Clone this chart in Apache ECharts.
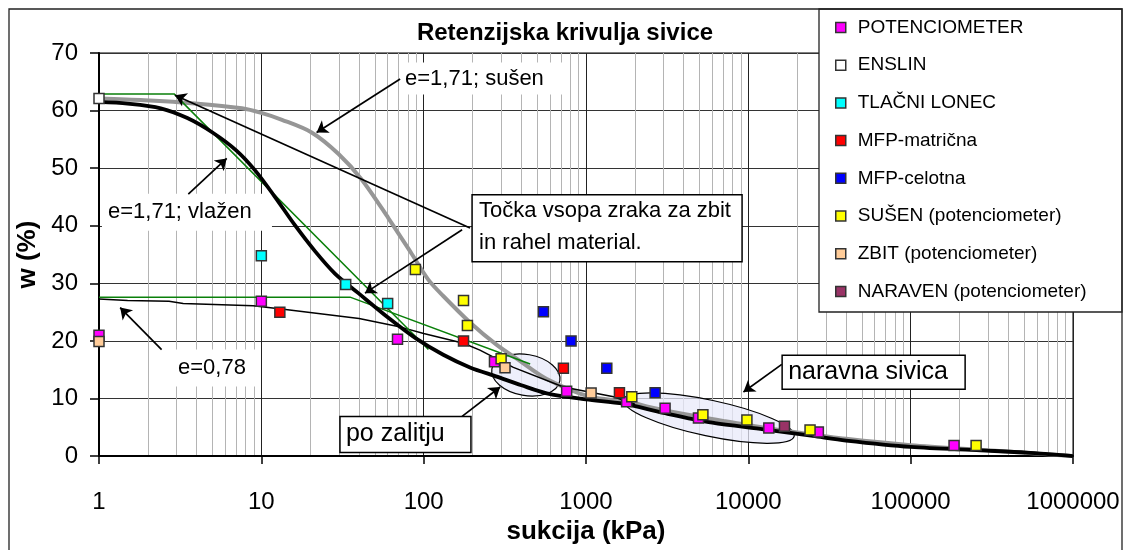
<!DOCTYPE html>
<html><head><meta charset="utf-8">
<script src="https://cdn.jsdelivr.net/npm/echarts@6/dist/echarts.min.js"></script>
<style>html,body{margin:0;padding:0;background:#fff}#c{width:1124px;height:550px}</style>
</head><body><div id="c"></div>
<script>
const FONT = '"Liberation Sans", Arial, sans-serif';
const titleText = 'Retenzijska krivulja sivice';
const xTickLabels = ['1','10','100','1000','10000','100000','1000000'];
const yTickLabels = ['0','10','20','30','40','50','60','70'];

// scatter series (suction kPa, w %)
const seriesNames = ['POTENCIOMETER','ENSLIN','TLAČNI LONEC','MFP-matrična','MFP-celotna','SUŠEN (potenciometer)','ZBIT (potenciometer)','NARAVEN (potenciometer)'];
const potenciometer = [[1,21.0],[10,26.9],[69,20.3],[273,16.4],[760,11.25],[1780,9.45],[3070,8.3],[4930,6.6],[13370,4.9],[27000,4.2],[185000,1.85]];
const enslin = [[1,62.1]];
const tlacniLonec = [[10,34.8],[33.1,29.8],[60,26.5]];
const mfpMatricna = [[13,25.0],[176,20.0],[726,15.25],[1607,11.0]];
const mfpCelotna = [[547,25.05],[809,20.0],[1343,15.25],[2665,11.0]];
const susen = [[88.9,32.4],[176,27.0],[186,22.7],[300,16.9],[1915,10.3],[5250,7.2],[9800,6.25],[24000,4.55],[253000,1.85]];
const zbit = [[1,19.9],[317,15.35],[1075,10.95]];
const naraven = [[16700,5.2]];

// curves
const susenCurveX = [1,1.9,3.9,7.6,10,13.4,20.4,29.8,41.6,60.7,84.5,107,132,193,282,393,573,1060,1870,2400,4000,7000,12000,20000,40000,100000,300000,1000000];
const susenCurveY = [62.1,61.8,61.25,60.4,59.6,58.4,56.2,52.5,48.0,41.3,35.1,30.6,27.8,23.2,19.3,16.5,13.4,10.3,9.4,8.6,7.3,6.1,5.0,4.1,3.0,1.9,1.0,0];
const vlazenCurveX = [1,1.5,2.4,3.5,5,7,9.1,12,16.1,21.4,28.4,39.6,62,90,132,193,282,400,573,1000,1700,3000,6000,12400,25000,40000,100000,270000,520000,1000000];
const vlazenCurveY = [61.5,61.2,60.4,58.7,56.2,53.1,49.7,45.2,40.1,35.6,31.7,28.3,23.8,20.4,17.6,15.4,13.8,12.3,10.9,9.85,9.1,7.5,5.8,4.66,3.5,2.7,1.6,1.0,0.6,0];
const e078CurveX = [1,1.5,2.7,3.3,8.9,13.7,40,72,100,176,222,357,726,1480,2000];
const e078CurveY = [27.3,27.0,26.9,26.5,26.1,25.5,23.9,22.4,21.3,19.6,18.4,15.4,12.0,10.3,9.0];
const green1X = [1,2.9,107];
const green1Y = [62.9,62.9,18.5];
const green2X = [1,35.2,453];
const green2Y = [27.6,27.6,16.0];

// annotations in data coordinates
const arrows = [
  [[71.6,65.5],[21.9,56.2]],
  [[3.55,45.5],[6.12,51.7]],
  [[2.43,18.5],[1.35,25.8]],
  [[193,39.6],[2.94,62.65]],
  [[172.5,39.3],[43.5,28.3]],
  [[172.5,6.9],[296,12.0]],
  [[16070,15.93],[9330,11.13]]
];
const labelBoxes = [
  {lines:['e=1,71; sušen'], at:[71.5,68.35], w:162, h:32, tx:5, ty:[16], size:22, border:false},
  {lines:['e=1,71; vlažen'], at:[1.043,45.54], w:170, h:37, tx:6, ty:[18.5], size:22, border:false},
  {lines:['e=0,78'], at:[2.624,18.51], w:91, h:37, tx:11, ty:[18.5], size:22, border:false},
  {lines:['Točka vsopa zraka za zbit','in rahel material.'], at:[198.7,45.37], w:270, h:67, tx:7, ty:[16.5,48], size:22, border:true},
  {lines:['naravna sivica'], at:[16150,17.5], w:183, h:34, tx:6, ty:[17], size:25, border:true},
  {lines:['po zalitju'], at:[30.5,6.86], w:131, h:36, tx:6, ty:[18], size:25, border:true}
];
const ellipses = [
  {c:[426,14.09], rx:34.5, ry:20.5, rot:-10},
  {c:[5735,6.6], rx:87, ry:18, rot:-12}
];

const scatterColors = ['#ff00ff','#ffffff','#00ffff','#ff0000','#0000ff','#ffff00','#ffcc99','#993366'];
const scatterData = [potenciometer, enslin, tlacniLonec, mfpMatricna, mfpCelotna, susen, zbit, naraven];
const zip = (xs, ys) => xs.map((x, i) => [x, ys[i]]);

const minorX = [];
for (let d = 1; d < 1000000; d *= 10) for (let m = 2; m <= 9; m++) minorX.push(d * m);

const chart = echarts.init(document.getElementById('c'));
const axisNameStyle = {fontFamily: FONT, fontSize: 26, fontWeight: 'bold', color: '#000'};
const series = [
  {type:'lines', coordinateSystem:'cartesian2d', silent:true, z:0,
   data: minorX.map(v => ({coords:[[v,0],[v,70]]})),
   lineStyle:{color:'#b4b4b4', width:1, opacity:1}},
  {type:'line', name:'c1', data: zip(susenCurveX, susenCurveY), smooth:0.3, symbol:'none', silent:true, z:2,
   lineStyle:{color:'#969696', width:4}},
  {type:'line', name:'c2', data: zip(e078CurveX, e078CurveY), smooth:false, symbol:'none', silent:true, z:2,
   lineStyle:{color:'#000', width:1.5}},
  {type:'line', name:'c3', data: zip(green1X, green1Y), symbol:'none', silent:true, z:2,
   lineStyle:{color:'#0a800a', width:1.5}},
  {type:'line', name:'c4', data: zip(green2X, green2Y), symbol:'none', silent:true, z:2,
   lineStyle:{color:'#0a800a', width:1.5}},
  {type:'line', name:'c5', data: zip(vlazenCurveX, vlazenCurveY), smooth:0.3, symbol:'none', silent:true, z:2,
   lineStyle:{color:'#000', width:3.8}},
  {type:'lines', coordinateSystem:'cartesian2d', silent:true, z:3.5,
   symbol:['none','arrow'], symbolSize:11,
   data: arrows.map(a => ({coords:a})),
   lineStyle:{color:'#000', width:1.7, opacity:1}}
];
seriesNames.forEach((n, i) => series.push({
  type:'scatter', name:n, data: scatterData[i], symbol:'rect', symbolSize:10, z:3,
  itemStyle:{color: scatterColors[i], borderColor:'#333', borderWidth:1.5, opacity:1}
}));

chart.setOption({
  animation:false,
  backgroundColor:'#fff',
  grid:{left:99, right:51, top:53, bottom:82, show:true, borderColor:'#000', borderWidth:1, backgroundColor:'transparent'},
  xAxis:{type:'log', logBase:10, min:1, max:1000000, splitNumber:6,
    name:'sukcija (kPa)', nameLocation:'middle', nameGap:54, nameTextStyle:axisNameStyle,
    axisLine:{show:true, onZero:false, lineStyle:{color:'#000', width:2}},
    axisTick:{show:true, length:8, lineStyle:{color:'#000', width:1.5}},
    axisLabel:{margin:34, fontSize:24, color:'#000', fontFamily:FONT,
      formatter: v => xTickLabels[Math.round(Math.log10(v))]},
    splitLine:{show:true, lineStyle:{color:'#222', width:1}}},
  yAxis:{type:'value', min:0, max:70, interval:10,
    name:'w (%)', nameLocation:'middle', nameGap:52, nameTextStyle:axisNameStyle,
    axisLine:{show:true, lineStyle:{color:'#000', width:2}},
    axisTick:{show:true, length:9, lineStyle:{color:'#000', width:1.5}},
    axisLabel:{margin:21, fontSize:24, color:'#000', fontFamily:FONT,
      formatter: v => yTickLabels[Math.round(v / 10)]},
    splitLine:{show:true, lineStyle:{color:'#333', width:1}}},
  legend:{orient:'vertical', left:835, top:18, padding:0, itemWidth:10, itemHeight:10, itemGap:18.7,
    selectedMode:false, z:4,
    data: seriesNames.map(n => ({name:n, icon:'rect'})),
    itemStyle:{borderColor:'#333', borderWidth:1.5},
    textStyle:{fontFamily:FONT, fontSize:19, lineHeight:19, color:'#000', padding:[0,0,0,7]}},
  series: series
});

const px = p => chart.convertToPixel({gridIndex:0}, p);
const g = [];
g.push({type:'rect', silent:true, z:6, shape:{x:9, y:9, width:1113, height:600}, style:{fill:'none', stroke:'#222', lineWidth:1.3}});
g.push({type:'rect', silent:true, z:3.8, shape:{x:819, y:9, width:303, height:303}, style:{fill:'#fff', stroke:'#222', lineWidth:1.3}});
g.push({type:'text', silent:true, z:6, x:565, y:33, style:{text:titleText, fontFamily:FONT, fontSize:24, fontWeight:'bold', fill:'#000', align:'center', verticalAlign:'middle'}});
ellipses.forEach(e => {
  const c = px(e.c);
  g.push({type:'ellipse', silent:true, z:1.5, x:c[0], y:c[1], rotation:e.rot * Math.PI / 180,
    shape:{cx:0, cy:0, rx:e.rx, ry:e.ry}, style:{fill:'rgba(232,234,250,0.75)', stroke:'#000', lineWidth:1.2}});
});
labelBoxes.forEach(b => {
  const p = px(b.at);
  g.push({type:'rect', silent:true, z: b.border ? 5 : 1, shape:{x:p[0], y:p[1], width:b.w, height:b.h},
    style:{fill:'#fff', stroke: b.border ? '#000' : 'none', lineWidth: b.border ? 1.5 : 0}});
  b.lines.forEach((t, i) => g.push({type:'text', silent:true, z: 5.1, x:p[0] + b.tx, y:p[1] + b.ty[i],
    style:{text:t, fontFamily:FONT, fontSize:b.size, fill:'#000', align:'left', verticalAlign:'middle'}}));
});
chart.setOption({graphic: g});
</script></body></html>
